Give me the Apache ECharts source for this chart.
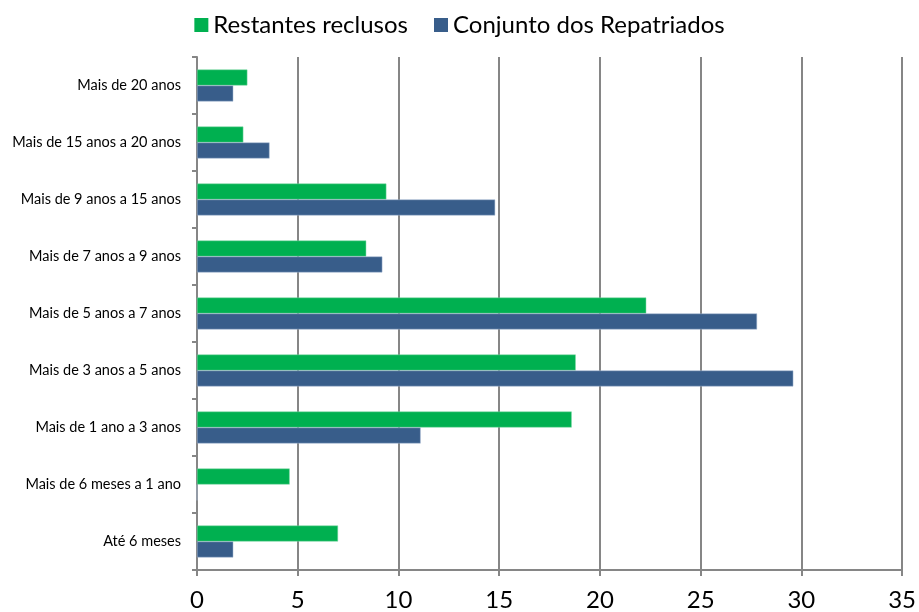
<!DOCTYPE html>
<html>
<head>
<meta charset="utf-8">
<script src="https://cdn.jsdelivr.net/npm/echarts@6/dist/echarts.min.js"></script>
<style>
  html, body { margin: 0; padding: 0; background: #fff; }
  #box { width: 919px; height: 612px; }
</style>
</head>
<body>
<div id="box"></div>
<script>
// categorias (de baixo para cima)
let categories = ['Até 6 meses', 'Mais de 6 meses a 1 ano', 'Mais de 1 ano a 3 anos',
  'Mais de 3 anos a 5 anos', 'Mais de 5 anos a 7 anos', 'Mais de 7 anos a 9 anos',
  'Mais de 9 anos a 15 anos', 'Mais de 15 anos a 20 anos', 'Mais de 20 anos'];

// valores
let restantes = [7.0, 4.6, 18.6, 18.8, 22.3, 8.4, 9.4, 2.3, 2.5];
let repatriados = [1.8, 0, 11.1, 29.6, 27.8, 9.2, 14.8, 3.6, 1.8];

let xTicks = [0, 5, 10, 15, 20, 25, 30, 35];

let chart = echarts.init(document.getElementById('box'));

let option = {
  backgroundColor: '#fff',
  animation: false,
  textStyle: { fontFamily: 'Lato, "Open Sans", sans-serif' },
  legend: {
    top: 8,
    left: 'center',
    itemWidth: 14,
    itemHeight: 14,
    itemGap: 26,
    icon: 'rect',
    itemStyle: { borderWidth: 0 },
    textStyle: { fontSize: 24, color: '#000', fontFamily: 'Lato, sans-serif' }
  },
  grid: {
    left: 197,
    right: 15,
    top: 57,
    bottom: 42,
    containLabel: false
  },
  xAxis: {
    type: 'value',
    min: xTicks[0],
    max: xTicks[xTicks.length - 1],
    interval: 5,
    axisLine: { show: true, lineStyle: { color: '#868686', width: 2 } },
    axisTick: { show: true, length: 6, lineStyle: { color: '#868686', width: 2 } },
    axisLabel: { fontSize: 24, color: '#000', margin: 18 },
    splitLine: { show: true, lineStyle: { color: '#868686', width: 2 } }
  },
  yAxis: {
    type: 'category',
    data: categories,
    axisLine: { show: true, lineStyle: { color: '#868686', width: 2 } },
    axisTick: { show: true, length: 5, lineStyle: { color: '#868686', width: 2 } },
    axisLabel: { fontSize: 14.5, color: '#000', margin: 16 },
    splitLine: { show: false }
  },
  series: [
    {
      name: 'Restantes reclusos',
      type: 'bar',
      data: restantes,
      barCategoryGap: '44%',
      barGap: '0%',
      itemStyle: { color: '#00b050', borderColor: '#7fd9a6', borderWidth: 0.5 }
    },
    {
      name: 'Conjunto dos Repatriados',
      type: 'bar',
      data: repatriados,
      barCategoryGap: '44%',
      barGap: '0%',
      itemStyle: { color: '#385d8a', borderColor: '#a7b9d3', borderWidth: 0.5 }
    }
  ]
};

chart.setOption(option);
</script>
</body>
</html>
